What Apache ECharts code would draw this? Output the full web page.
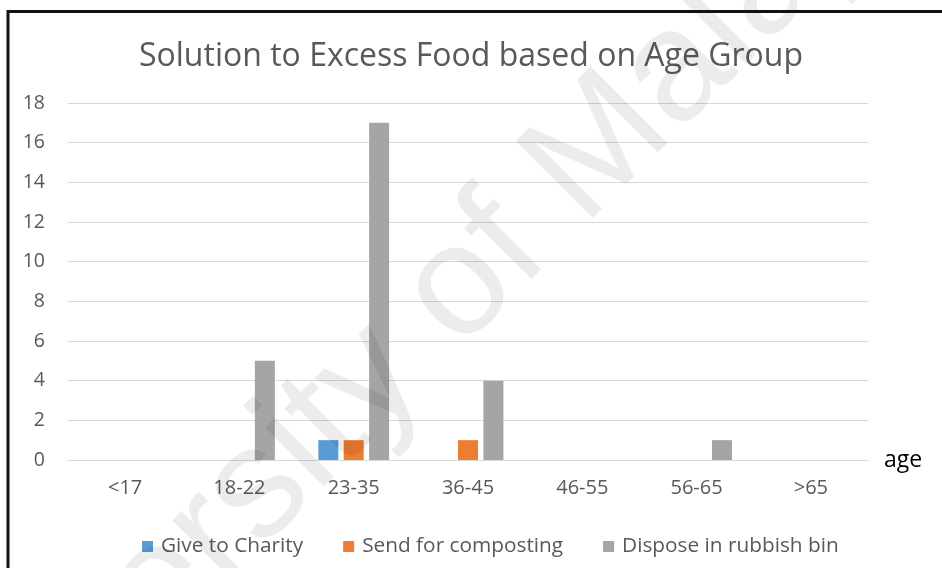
<!DOCTYPE html>
<html>
<head>
<meta charset="utf-8">
<title>Solution to Excess Food based on Age Group</title>
<script src="https://cdn.jsdelivr.net/npm/echarts@6/dist/echarts.min.js"></script>
<style>
  html, body { margin: 0; padding: 0; background: #ffffff; }
  #chart { width: 942px; height: 568px; }
</style>
</head>
<body>
<div id="chart"></div>
<script>
// Age groups along the x axis
const ageGroups = ['<17', '18-22', '23-35', '36-45', '46-55', '56-65', '>65'];

// Respondent counts per solution
const giveToCharity = [0, 0, 1, 0, 0, 0, 0];
const sendForComposting = [0, 0, 1, 1, 0, 0, 0];
const disposeInRubbishBin = [0, 5, 17, 4, 0, 1, 0];

const seriesNames = ['Give to Charity', 'Send for composting', 'Dispose in rubbish bin'];
const seriesColors = ['#5b9bd5', '#ed7d31', '#a5a5a5'];
const seriesValues = [giveToCharity, sendForComposting, disposeInRubbishBin];

const chartTitle = 'Solution to Excess Food based on Age Group';
const xAxisName = 'age';
const watermarkText = 'University of Malaya';

const FONT = '"Open Sans", Lato, sans-serif';

const chart = echarts.init(document.getElementById('chart'), null, { renderer: 'canvas' });

const option = {
  backgroundColor: '#ffffff',
  animation: false,
  textStyle: { fontFamily: FONT },
  title: {
    text: chartTitle,
    left: 'center',
    top: 36,
    textStyle: { fontFamily: FONT, fontSize: 32, fontWeight: 'normal', color: '#595959' }
  },
  legend: {
    left: 137,
    top: 531,
    icon: 'rect',
    itemWidth: 11,
    itemHeight: 11,
    itemGap: 40,
    textStyle: { fontFamily: FONT, fontSize: 20.8, color: '#595959', padding: [0, 0, 0, 3] },
    data: seriesNames
  },
  grid: { left: 68, right: 74, top: 103, bottom: 108, containLabel: false },
  xAxis: {
    type: 'category',
    data: ageGroups,
    name: xAxisName,
    nameLocation: 'end',
    nameGap: 16,
    nameTextStyle: { fontFamily: FONT, fontSize: 23, color: '#000000', verticalAlign: 'middle' },
    axisTick: { show: false },
    axisLine: { lineStyle: { color: '#d9d9d9', width: 1 } },
    axisLabel: { color: '#595959', fontSize: 20, margin: 18, fontFamily: FONT }
  },
  yAxis: {
    type: 'value',
    min: 0,
    max: 18,
    interval: 2,
    axisLine: { show: false },
    axisTick: { show: false },
    axisLabel: { color: '#595959', fontSize: 19.5, margin: 23, fontFamily: FONT },
    splitLine: { lineStyle: { color: '#d9d9d9', width: 1 } }
  },
  series: seriesNames.map((name, i) => ({
    name: name,
    type: 'bar',
    data: seriesValues[i],
    barWidth: 20,
    barGap: '27%',
    itemStyle: { color: seriesColors[i] }
  })),
  graphic: [
    {
      // frame along the top and left edges
      type: 'polyline',
      z: 200,
      shape: { points: [[8, 568], [8, 11.5], [942, 11.5]] },
      style: { stroke: '#111111', lineWidth: 3, fill: null }
    },
    {
      type: 'text',
      z: 150,
      x: 410,
      y: 339,
      rotation: 45 * Math.PI / 180,
      style: {
        text: watermarkText,
        font: '158px "Liberation Sans", Arial, sans-serif',
        fill: 'rgba(0,0,0,0.075)',
        align: 'center',
        verticalAlign: 'middle'
      }
    }
  ]
};

chart.setOption(option);
</script>
</body>
</html>
